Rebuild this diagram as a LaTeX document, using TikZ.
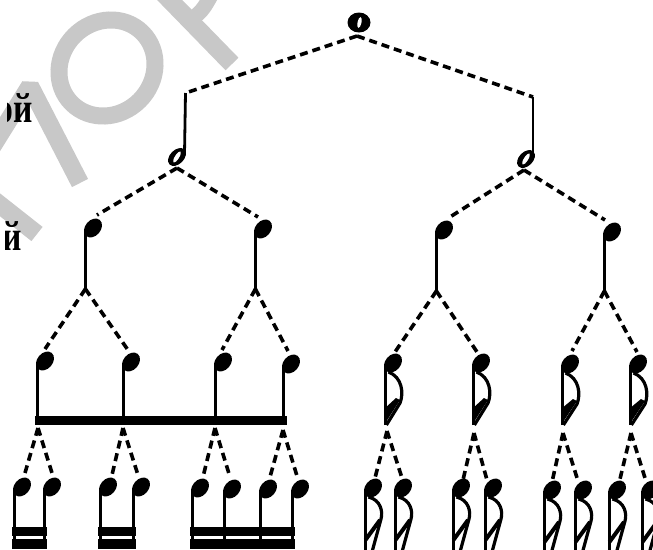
\documentclass[tikz,border=0pt]{standalone}
\usepackage{fontspec}
\newfontfamily\cyrserif{Liberation Serif}
\usetikzlibrary{shapes.geometric}
\definecolor{wm}{RGB}{200,200,200}
\newcommand{\notedown}[4]{%
  \node[qhead] (#1) at (#2,#3) {};
  \coordinate (#1b) at ({#2-7.6},#4);
  \draw[stemline] ({#2-7.6},{#3+1}) -- (#1b);}
\newcommand{\eflag}[2]{%
  \draw[flagline] ({#1-4.5},{#2+9}) .. controls ({#1+9},{#2+14}) and ({#1+11},{#2+30}) .. ({#1+7},{#2+40}) -- ({#1-6.6},425);
  \fill ({#1-9},425) -- ({#1+7},{#2+37}) -- ({#1+3},{#2+35}) -- ({#1-9},409) -- cycle;}
\newcommand{\sflag}[2]{%
  \draw[flagline] ({#1-4.5},{#2+9}) .. controls ({#1+8},{#2+12}) and ({#1+10},{#2+24}) .. ({#1+8},{#2+31}) -- ({#1-1},{#2+64});
  \draw[line width=4pt] ({#1-7.6},{#2+52}) -- ({#1+7},{#2+32});}
\begin{document}
\begin{tikzpicture}[x=1pt,y=-1pt,
  dashline/.style={line width=3.6pt,dash pattern=on 8pt off 5pt},
  stemline/.style={line width=2.8pt},
  flagline/.style={line width=3.2pt},
  qhead/.style={ellipse,fill=black,inner sep=0pt,minimum width=21pt,minimum height=15.5pt,rotate=50},
  hhead/.style={ellipse,fill=black,inner sep=0pt,minimum width=21pt,minimum height=14pt,rotate=45},
  slit/.style={ellipse,fill=white,inner sep=0pt,minimum width=13pt,minimum height=4.2pt,rotate=58},
  wmband/.style={wm,line width=18pt},
  lab/.style={anchor=base east,inner sep=0pt,font=\fontsize{42}{42}\selectfont\cyrserif\bfseries}]
\useasboundingbox (0,0) rectangle (653,549);
\fill[white] (0,0) rectangle (653,549);
% watermark
\draw[wmband,line join=bevel] (-8,147) -- (30,86) -- (80,183);
\draw[wmband] (-15,193) -- (37,234);
\draw[wm,line width=17pt,rotate around={45:(107,68)}] (107,68) ellipse [x radius=50pt,y radius=46pt];
\draw[wmband] (158,-12) -- (232,64);
\draw[wm,line width=15pt] (184,24) .. controls (202,12) .. (214,-10);
% cropped labels (the page edge cuts them)
\begin{scope}
\clip (7,60) rectangle (60,140);
\node[lab] (lab1) at (33,122) {\scalebox{0.8}[1]{ой}};
\end{scope}
\begin{scope}
\clip (5,190) rectangle (60,270);
\node[lab] (lab2) at (22,250) {\scalebox{0.8}[1]{й}};
\end{scope}
% whole note
\node[ellipse,fill=black,inner sep=0pt,minimum width=23pt,minimum height=20pt] (w) at (359,22.5) {};
\node[ellipse,fill=white,inner sep=0pt,minimum width=4pt,minimum height=11pt,rotate=-12] (wslit) at (359.5,22.5) {};
\coordinate (wj) at (357,36);
% half notes
\node[hhead] (h1) at (177,157) {};
\node[slit] (h1s) at (177,157) {};
\coordinate (h1t) at (185.5,93);
\draw[stemline] (184.5,154) -- (h1t);
\coordinate (h1j) at (177,168);
\node[hhead] (h2) at (526,159) {};
\node[slit] (h2s) at (526,159) {};
\coordinate (h2t) at (533,97);
\draw[stemline] (533,156) -- (h2t);
\coordinate (h2j) at (524,170);
\draw[dashline] (wj) -- (h1t);
\draw[dashline] (wj) -- (h2t);
% quarter notes
\notedown{q1}{93}{228}{289}
\notedown{q2}{263}{229}{289}
\notedown{q3}{444}{230}{291}
\notedown{q4}{612}{232}{291}
\coordinate (q1t) at (97,215);
\coordinate (q2t) at (258,217);
\coordinate (q3t) at (450,217);
\coordinate (q4t) at (605,220);
\draw[dashline] (h1j) -- (q1t);
\draw[dashline] (h1j) -- (q2t);
\draw[dashline] (h2j) -- (q3t);
\draw[dashline] (h2j) -- (q4t);
% eighth notes
\notedown{e1}{45}{361}{420}
\notedown{e2}{131}{362}{420}
\notedown{e3}{223}{362}{420}
\notedown{e4}{291}{364}{420}
\fill (35,415.5) rectangle (287,424.5);
\notedown{e5}{393}{363}{425}
\notedown{e6}{481}{363}{425}
\notedown{e7}{570}{364}{425}
\notedown{e8}{638}{364}{425}
\eflag{393}{363}
\eflag{481}{363}
\eflag{570}{364}
\eflag{638}{364}
\coordinate (e1t) at (45,349);
\coordinate (e2t) at (128,350);
\coordinate (e3t) at (222,350);
\coordinate (e4t) at (288,351);
\coordinate (e5t) at (395,352);
\coordinate (e6t) at (477,352);
\coordinate (e7t) at (572,351);
\coordinate (e8t) at (637,352);
\draw[dashline] (q1b) -- (e1t);
\draw[dashline] (q1b) -- (e2t);
\draw[dashline] (q2b) -- (e3t);
\draw[dashline] (q2b) -- (e4t);
\draw[dashline] (q3b) -- (e5t);
\draw[dashline] (q3b) -- (e6t);
\draw[dashline] (q4b) -- (e7t);
\draw[dashline] (q4b) -- (e8t);
% sixteenth notes
\notedown{s1}{22}{487}{548}
\notedown{s2}{52}{487}{548}
\notedown{s3}{108}{487}{548}
\notedown{s4}{141}{487}{548}
\notedown{s5}{200}{488}{548}
\notedown{s6}{232}{489}{548}
\notedown{s7}{268}{489}{548}
\notedown{s8}{300}{489}{548}
\fill (12,527) rectangle (47,535.5);
\fill (12,538.5) rectangle (47,549);
\fill (98,527) rectangle (136,535.5);
\fill (98,538.5) rectangle (136,549);
\fill (190,527) rectangle (295,535.5);
\fill (190,538.5) rectangle (295,549);
\notedown{s9}{373}{488}{552}
\notedown{s10}{403}{488}{552}
\notedown{s11}{461}{488}{552}
\notedown{s12}{493}{488}{552}
\notedown{s13}{552}{490}{552}
\notedown{s14}{583}{490}{552}
\notedown{s15}{617}{490}{552}
\notedown{s16}{650}{490}{552}
\sflag{373}{488}
\sflag{403}{488}
\sflag{461}{488}
\sflag{493}{488}
\sflag{552}{490}
\sflag{583}{490}
\sflag{617}{490}
\sflag{650}{490}
\coordinate (e1j) at (38,428);
\coordinate (e2j) at (123,428);
\coordinate (e3j) at (215,428);
\coordinate (e4j) at (283,430);
\coordinate (e5j) at (387,431);
\coordinate (e6j) at (474,433);
\coordinate (e7j) at (563,433);
\coordinate (e8j) at (631,433);
\coordinate (s1t) at (25,473);
\coordinate (s2t) at (52,473);
\coordinate (s3t) at (112,475);
\coordinate (s4t) at (138,475);
\coordinate (s5t) at (203,477);
\coordinate (s6t) at (230,477);
\coordinate (s7t) at (270,477);
\coordinate (s8t) at (297,476);
\coordinate (s9t) at (375,478);
\coordinate (s10t) at (402,478);
\coordinate (s11t) at (463,480);
\coordinate (s12t) at (487,480);
\coordinate (s13t) at (552,482);
\coordinate (s14t) at (578,481);
\coordinate (s15t) at (620,479);
\coordinate (s16t) at (645,478);
\draw[dashline] (e1j) -- (s1t);
\draw[dashline] (e1j) -- (s2t);
\draw[dashline] (e2j) -- (s3t);
\draw[dashline] (e2j) -- (s4t);
\draw[dashline] (e3j) -- (s5t);
\draw[dashline] (e3j) -- (s6t);
\draw[dashline] (e4j) -- (s7t);
\draw[dashline] (e4j) -- (s8t);
\draw[dashline] (e5j) -- (s9t);
\draw[dashline] (e5j) -- (s10t);
\draw[dashline] (e6j) -- (s11t);
\draw[dashline] (e6j) -- (s12t);
\draw[dashline] (e7j) -- (s13t);
\draw[dashline] (e7j) -- (s14t);
\draw[dashline] (e8j) -- (s15t);
\draw[dashline] (e8j) -- (s16t);
\end{tikzpicture}
\end{document}
